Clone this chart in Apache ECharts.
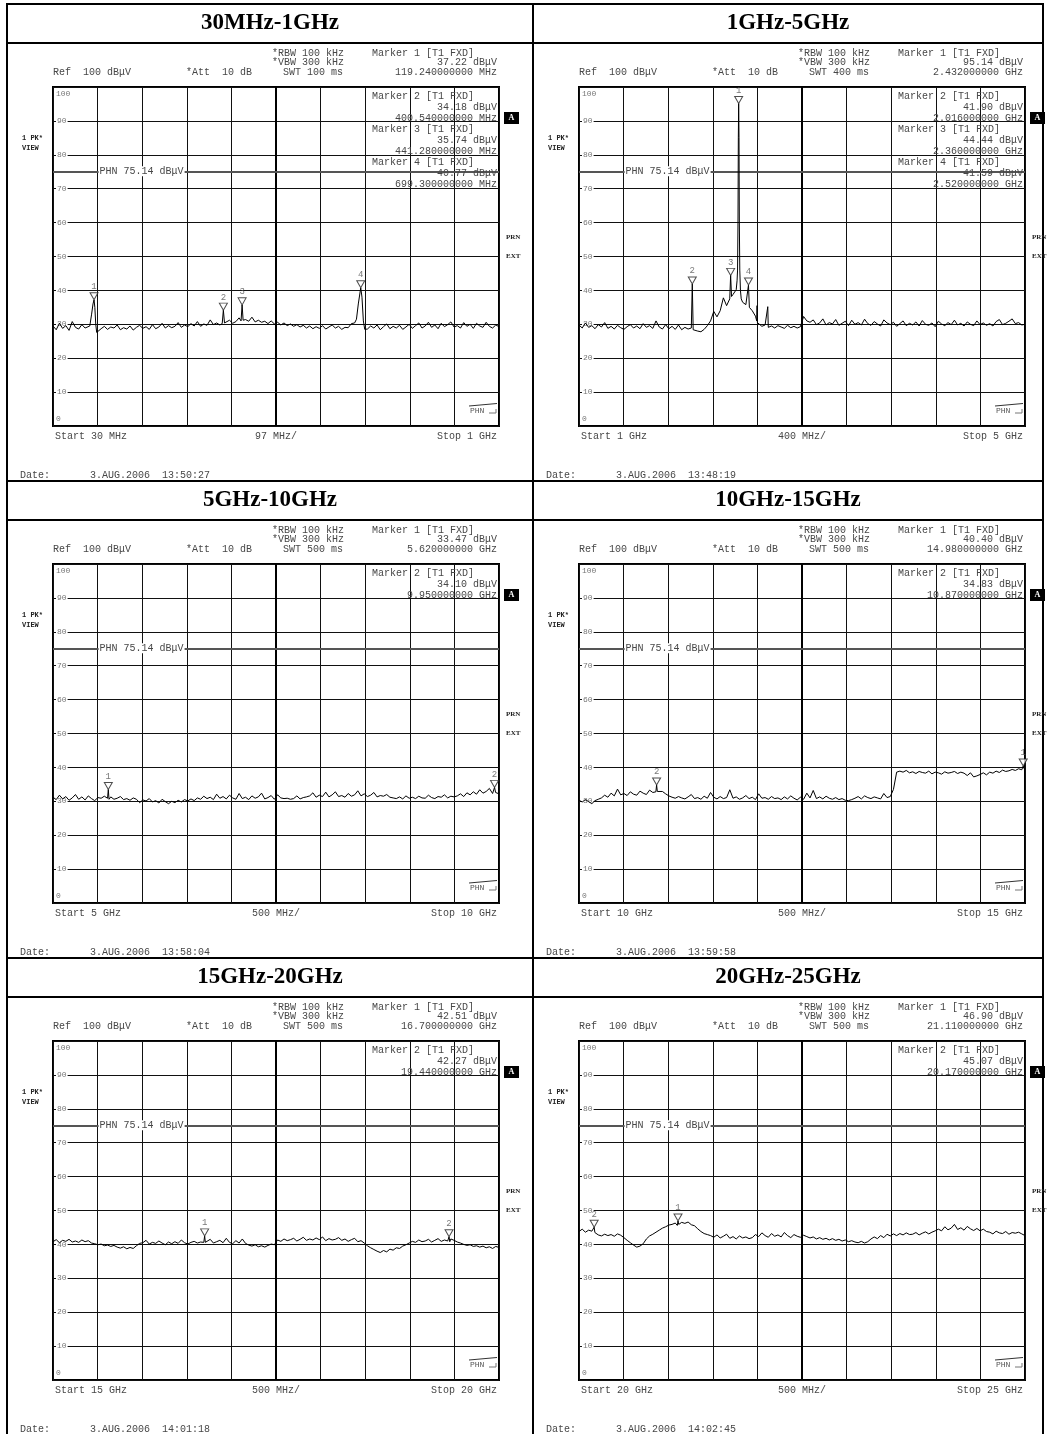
<!DOCTYPE html>
<html><head><meta charset="utf-8">
<script src="https://cdn.jsdelivr.net/npm/echarts@6/dist/echarts.min.js"></script>
<style>html,body{margin:0;padding:0;background:#fff}#c{width:1047px;height:1434px}</style>
</head><body><div id="c"></div><script>
// ---------------- DATA ----------------
const titles = ['30MHz-1GHz','1GHz-5GHz','5GHz-10GHz','10GHz-15GHz','15GHz-20GHz','20GHz-25GHz'];
const startMHz = [30, 1000, 5000, 10000, 15000, 20000];
const stopMHz  = [1000, 5000, 10000, 15000, 20000, 25000];
const startLabels = ['Start 30 MHz','Start 1 GHz','Start 5 GHz','Start 10 GHz','Start 15 GHz','Start 20 GHz'];
const spanLabels  = ['97 MHz/','400 MHz/','500 MHz/','500 MHz/','500 MHz/','500 MHz/'];
const stopLabels  = ['Stop 1 GHz','Stop 5 GHz','Stop 10 GHz','Stop 15 GHz','Stop 20 GHz','Stop 25 GHz'];
const swtLabels   = ['SWT 100 ms','SWT 400 ms','SWT 500 ms','SWT 500 ms','SWT 500 ms','SWT 500 ms'];
const dateLabels  = ['3.AUG.2006  13:50:27','3.AUG.2006  13:48:19','3.AUG.2006  13:58:04','3.AUG.2006  13:59:58','3.AUG.2006  14:01:18','3.AUG.2006  14:02:45'];
const phnLevel = 75.14;
const yMin = 0, yMax = 100, yStep = 10;

// marker frequencies (MHz) and levels (dBuV)
const markerFreq1 = [119.24, 400.54, 441.28, 699.3];
const markerLevel1 = [37.22, 34.18, 35.74, 40.77];
const markerFreq2 = [2432, 2016, 2360, 2520];
const markerLevel2 = [95.14, 41.90, 44.44, 41.59];
const markerFreq3 = [5620, 9950];
const markerLevel3 = [33.47, 34.10];
const markerFreq4 = [14980, 10870];
const markerLevel4 = [40.40, 34.83];
const markerFreq5 = [16700, 19440];
const markerLevel5 = [42.51, 42.27];
const markerFreq6 = [21110, 20170];
const markerLevel6 = [46.90, 45.07];

// sweep traces: evenly spaced samples from start to stop (null = covered by a narrow signal below)
const trace1 = [29.5,28.4,30.3,28.8,29.6,28.2,30.8,29.1,28.6,29.9,28.9,
 null,null,null,null,
 28.7,29.4,28.5,29.2,28.9,29.8,28.4,29.0,28.6,29.5,28.3,29.1,29.7,28.8,29.3,28.5,29.9,28.7,29.2,30.3,28.9,29.6,29.0,29.4,30.5,29.1,29.8,29.3,30.2,29.5,30.8,29.4,30.1,29.7,31.3,29.9,30.4,29.8,
 30.5,30.0,31.2,30.3,30.8,31.9,30.5,31.4,30.9,32.1,30.7,31.2,30.6,
 30.9,30.2,31.0,30.1,30.6,29.8,30.4,29.6,30.1,29.4,29.9,29.2,29.7,28.9,29.5,28.7,29.3,28.8,29.6,28.6,29.2,29.8,28.9,29.4,28.5,29.1,29.0,
 30.2,30.4,null,null,null,
 28.6,29.5,28.9,29.8,28.4,29.3,30.1,28.7,29.4,28.9,29.7,28.5,29.2,30.0,28.8,29.6,30.4,28.9,29.5,30.6,29.1,29.8,28.7,30.3,29.3,29.9,30.7,29.2,29.6,28.9,30.5,29.4,30.0,28.8,30.3,29.5,29.1,30.6,29.4,28.9,29.8,29.3];
const trace2 = [29.8,28.9,30.4,29.1,29.6,28.7,29.9,29.2,30.5,28.8,29.4,28.6,29.7,29.0,28.5,29.3,29.9,28.9,29.5,28.7,30.2,29.1,29.6,28.8,31.0,29.2,28.6,29.9,28.7,29.4,28.5,29.8,28.4,29.1,28.6,28.9,
 28.3,28.0,27.8,28.5,29.6,31.0,33.8,32.2,34.0,37.8,35.5,null,38.8,null,null,36.5,35.8,null,34.0,32.4,30.0,29.4,29.8,29.1,29.5,28.9,29.6,29.2,28.8,29.7,29.0,29.4,28.9,29.3,
 32.3,31.0,30.6,31.3,29.9,30.4,31.6,29.8,30.5,30.1,31.4,29.7,30.3,30.9,29.6,31.2,30.0,30.5,29.8,31.5,30.2,29.7,30.8,30.1,29.5,31.3,30.4,29.9,30.6,29.4,30.2,31.0,29.6,30.3,29.8,30.7,29.5,31.1,30.0,29.7,30.4,29.3,30.9,30.1,29.6,30.5,29.9,31.2,29.8,30.3,29.5,30.7,30.0,29.6,31.0,29.9,30.4,29.7,30.2,29.5,30.8,31.4,29.9,30.3,30.9,31.6,30.2,30.5,29.8,30.0];
const trace3 = [31.2,30.5,31.8,30.7,31.4,30.3,31.0,32.0,30.6,31.3,30.4,31.6,30.8,30.2,31.1,30.9,31.5,
 30.9,31.3,30.6,30.9,31.4,30.5,30.8,30.3,31.0,30.6,29.6,
 30.4,30.1,30.8,29.8,30.2,29.5,30.6,29.9,29.3,30.0,29.6,30.3,29.8,30.5,30.1,30.7,30.2,
 31.0,30.6,31.5,30.8,31.2,30.5,32.1,30.9,31.4,30.7,31.8,31.0,30.6,32.3,30.8,31.2,30.5,31.6,30.9,31.3,32.4,30.7,31.1,31.7,30.6,31.9,31.0,30.8,
 30.9,30.6,30.8,31.6,30.7,31.1,31.3,
 31.6,32.5,31.2,31.8,31.4,32.7,31.3,31.9,32.8,31.4,31.7,31.2,32.3,31.5,31.9,33.1,31.6,32.2,31.4,31.8,32.6,31.3,31.7,31.5,32.0,31.2,
 31.0,30.8,31.3,30.7,31.6,30.9,31.2,30.8,31.5,31.0,30.9,31.8,31.1,30.8,31.4,31.2,31.9,31.0,31.5,31.3,
 31.6,32.2,31.4,32.5,31.9,32.8,32.1,33.4,32.4,32.9,33.8,32.3,32.6,32.2];
const trace4 = [30.3,29.8,30.5,29.9,29.3,30.2,
 30.6,31.0,31.8,31.2,32.4,31.6,33.6,31.9,32.3,31.7,32.8,32.1,31.8,33.0,32.4,32.0,33.3,32.6,null,32.5,32.9,32.2,
 31.6,31.2,30.9,31.4,31.0,30.7,31.3,32.0,30.8,31.1,30.6,31.5,30.9,32.6,31.2,30.7,31.4,30.8,31.1,33.4,30.9,31.3,30.6,31.0,31.7,30.8,31.2,30.5,32.2,30.9,31.1,30.6,31.4,30.8,31.0,30.5,31.3,30.7,31.6,30.9,30.4,31.2,30.6,32.4,31.0,33.2,30.8,31.3,30.7,31.5,30.9,30.6,31.1,30.5,30.8,30.3,30.2,30.5,30.9,31.4,30.7,31.6,31.1,30.8,31.3,31.0,30.7,32.3,31.1,31.4,
 33.5,38.6,
 38.9,38.6,39.1,38.4,38.7,38.2,38.8,38.5,38.3,38.9,38.1,38.6,38.4,38.0,38.7,38.3,38.5,38.8,38.2,38.6,38.3,37.6,38.4,37.2,37.5,37.9,38.4,37.8,38.6,38.3,38.9,38.5,39.2,38.8,39.0,39.4,39.1,39.6,39.3,39.8];
const trace5 = [40.8,41.4,40.5,41.2,40.9,41.5,40.7,41.0,40.6,41.3,40.8,41.1,40.4,
 40.2,39.9,40.1,39.6,39.8,39.4,39.7,39.2,38.9,39.3,38.7,39.1,38.8,39.6,40.3,
 40.5,41.2,40.1,40.6,40.3,41.0,40.4,39.9,40.7,40.2,40.8,40.3,41.3,40.5,40.1,40.6,40.9,40.4,40.7,
 40.6,40.9,41.5,40.4,40.8,41.2,40.5,41.8,40.6,40.2,41.1,40.4,41.6,40.3,39.8,39.5,39.9,39.3,39.6,39.2,39.7,40.1,39.9,
 41.3,40.9,41.6,41.1,41.4,41.8,41.0,41.5,42.1,41.2,41.6,41.3,41.9,41.4,42.2,41.1,41.7,41.3,41.5,42.0,41.2,41.6,40.9,41.4,41.8,40.8,41.1,
 40.4,39.6,39.0,38.5,38.0,37.6,38.2,37.8,38.6,38.3,39.0,38.8,39.5,39.9,
 40.4,40.9,40.6,41.3,40.8,41.0,41.5,40.7,41.2,41.7,40.9,41.3,41.0,41.6,41.2,40.7,
 40.4,40.0,39.7,39.9,39.4,39.6,39.2,39.5,39.0,39.3,38.8,39.4,39.1];
const trace6 = [43.8,44.5,43.6,44.2,43.9,43.3,
 42.8,42.5,43.0,42.6,42.9,42.4,43.1,42.7,
 42.0,41.2,40.5,39.8,39.2,39.5,40.2,
 41.6,42.5,43.0,43.6,44.2,44.8,45.2,45.7,
 45.9,46.3,null,46.5,46.2,46.6,45.8,45.5,
 44.6,43.8,43.2,42.9,
 42.6,42.1,42.8,41.9,42.4,43.0,41.8,42.3,41.6,42.5,41.9,42.2,41.7,42.0,42.9,42.3,43.4,42.6,42.1,43.2,42.4,42.8,42.2,43.5,42.6,42.0,42.9,42.4,42.1,42.7,
 42.3,41.9,42.2,41.6,42.0,41.5,41.8,41.3,41.7,41.2,41.5,41.0,41.3,40.8,41.1,40.7,40.5,40.9,40.4,40.8,41.6,
 42.2,41.7,42.6,42.0,43.0,42.5,
 43.1,42.6,43.2,42.8,43.4,42.9,43.0,43.5,42.8,43.3,43.7,43.1,43.6,44.0,
 44.5,44.0,45.2,44.3,44.8,45.9,44.4,44.9,44.2,45.3,44.6,44.1,44.7,44.0,44.5,43.8,
 43.6,43.1,43.9,43.4,43.2,43.8,43.0,43.5,43.3,43.6,43.1,42.6];

// narrow signals: [MHz, dBuV] points
const spikes1 = [
 [[110,29.5],[114,33.0],[117,36.0],[119.24,37.22],[121,35.0],[123,30.0],[125,27.6]],
 [[398,30.2],[400.54,34.18],[403,30.4]],
 [[439,31.0],[441.28,35.74],[443.5,31.2]],
 [[686,30.5],[690,31.5],[694,36.0],[699.3,40.77],[702,38.0],[705,31.0],[708,28.5]]];
const spikes2 = [
 [[2008,28.6],[2016,41.90],[2024,28.4]],
 [[2352,37.5],[2360,44.44],[2368,38.2]],
 [[2410,40.2],[2418,43.0],[2422,46.0],[2426,60.0],[2429,85.0],[2432,95.14],[2435,85.0],[2438,60.0],[2442,46.0],[2448,40.0],[2455,37.5]],
 [[2512,35.5],[2520,41.59],[2528,35.0]],
 [[2594,31.0],[2597,35.5],[2600,30.5]],
 [[2686,29.5],[2693,35.2],[2697,29.8]]];
const spikes3 = [
 [[5612,30.8],[5620,33.47],[5628,30.6]],
 [[9940,32.0],[9950,34.10],[9962,32.6]]];
const spikes4 = [
 [[10862,32.8],[10870,34.83],[10878,32.9]],
 [[14970,39.3],[14980,40.40],[14990,39.6]]];
const spikes5 = [
 [[16692,40.5],[16700,42.51],[16708,40.6]],
 [[19432,41.0],[19440,42.27],[19448,40.8]]];
const spikes6 = [
 [[20162,43.8],[20170,45.07],[20178,43.5]],
 [[21102,45.6],[21110,46.90],[21118,45.9]]];

// ---------------- BUILD ----------------
const traces = [trace1,trace2,trace3,trace4,trace5,trace6];
const spikes = [spikes1,spikes2,spikes3,spikes4,spikes5,spikes6];
const mFreqs = [markerFreq1,markerFreq2,markerFreq3,markerFreq4,markerFreq5,markerFreq6];
const mLevels = [markerLevel1,markerLevel2,markerLevel3,markerLevel4,markerLevel5,markerLevel6];

function buildTrace(start, stop, vals, sp){
  const n = vals.length, step = (stop-start)/(n-1), pts = [];
  vals.forEach((v,i)=>{
    if (v == null) return;
    const f = start + i*step;
    if (sp.some(s => f >= s[0][0] && f <= s[s.length-1][0])) return;
    pts.push([f, v]);
  });
  sp.forEach(s => s.forEach(p => pts.push(p)));
  pts.sort((a,b)=>a[0]-b[0]);
  return pts;
}
function freqText(k, f){
  return k === 0 ? f.toFixed(9) + ' MHz' : (f/1000).toFixed(9) + ' GHz';
}

const MONO = '"Liberation Mono","DejaVu Sans Mono",monospace';
const TXT = '#474747';
const chart = echarts.init(document.getElementById('c'), null, {renderer:'canvas', width:1047, height:1434});
const grids = [], xAxes = [], yAxes = [], series = [];
const PX = 53, PY = 87, PW = 446, PH = 339, COLX = 526, ROWY = 477;

for (let k = 0; k < 6; k++){
  const c = k % 2, r = Math.floor(k/2), ox = COLX*c, oy = ROWY*r;
  const s0 = startMHz[k], s1 = stopMHz[k];
  grids.push({left: PX+ox, top: PY+oy, width: PW, height: PH, show: true, borderColor: '#000', borderWidth: 2, backgroundColor: '#fff'});
  xAxes.push({gridIndex: k, type: 'value', min: s0, max: s1, interval: (s1-s0)/10,
    axisLine: {show:false}, axisTick: {show:false}, axisLabel: {show:false},
    splitLine: {show:true, lineStyle: {color:'#111', width:1}}});
  yAxes.push({gridIndex: k, type: 'value', min: yMin, max: yMax, interval: yStep,
    axisLine: {show:false}, axisTick: {show:false},
    axisLabel: {show:true, inside:true, margin:3, fontSize:8, color:'#777', fontFamily: MONO,
      formatter: v => v === yMax ? '{t|' + v + '}' : (v === yMin ? '{b|' + v + '}' : '{m|' + v + '}'),
      rich: {
        t: {fontSize:8, color:'#777', fontFamily: MONO, padding:[14,0,0,0]},
        b: {fontSize:8, color:'#777', fontFamily: MONO, padding:[0,0,14,0]},
        m: {fontSize:8, color:'#777', fontFamily: MONO, backgroundColor:'#fff', padding:[0,1]}
      }},
    splitLine: {show:true, lineStyle: {color:'#111', width:1}}});
  series.push({type:'line', xAxisIndex:k, yAxisIndex:k, data: buildTrace(s0, s1, traces[k], spikes[k]),
    showSymbol:false, symbol:'none', animation:false, silent:true,
    lineStyle:{color:'#000', width:1}, z:5,
    markLine:{silent:true, symbol:['none','none'], animation:false, label:{show:false},
      data:[
        {xAxis:(s0+s1)/2, lineStyle:{color:'#000', width:2, type:'solid'}},
        {yAxis:phnLevel, lineStyle:{color:'#555', width:2, type:'solid'}}
      ]}});
  series.push({type:'scatter', xAxisIndex:k, yAxisIndex:k, animation:false, silent:true, z:6,
    data: mFreqs[k].map((f,i)=>[f, mLevels[k][i], i+1]),
    symbol:'path://M0,0L8,0L4,7Z', symbolSize:[8,7], symbolOffset:[0,-3.5],
    itemStyle:{color:'#fff', borderColor:'#222', borderWidth:1},
    label:{show:true, position:'top', distance:1, formatter: p => String(p.data[2]), fontSize:9, color:'#555', fontFamily: MONO}});
}

chart.setOption({animation:false, backgroundColor:'#fff', grid: grids, xAxis: xAxes, yAxis: yAxes, series: series});

// ---------------- ANNOTATIONS ----------------
const G = [];
function T(x, y, text, align, font, fill, extra){
  G.push({type:'text', silent:true, z:100, style:Object.assign({x:x, y:y, text:text, fill: fill || TXT,
    font: font || ('10px ' + MONO), textAlign: align || 'left', align: align || 'left',
    textVerticalAlign:'middle', verticalAlign:'middle'}, extra || {})});
}
function L(x1,y1,x2,y2,w,col){
  G.push({type:'line', silent:true, z:90, shape:{x1:x1,y1:y1,x2:x2,y2:y2}, style:{stroke: col || '#000', lineWidth: w || 2}});
}
// table
L(6,4,1044,4,2); L(7,3,7,1434,2); L(1043,3,1043,1434,2); L(533,3,533,1434,2);
[43,481,520,958,997].forEach(y => L(6,y,1044,y,2));
const titleCX = [270, 788];
const headerCY = [23.5, 500.5, 977.5];

for (let k = 0; k < 6; k++){
  const c = k % 2, r = Math.floor(k/2), ox = COLX*c, oy = ROWY*r;
  T(titleCX[c], headerCY[r], titles[k], 'center', 'bold 23px "Liberation Serif","Times New Roman",serif', '#000');
  T(272+ox, 53+oy, '*RBW 100 kHz');
  T(272+ox, 62.5+oy, '*VBW 300 kHz');
  T(53+ox, 72.5+oy, 'Ref  100 dB\u03bcV');
  T(186+ox, 72.5+oy, '*Att  10 dB');
  T(283+ox, 72.5+oy, swtLabels[k]);
  // marker 1 in header
  T(372+ox, 53+oy, 'Marker 1 [T1 FXD]');
  T(497+ox, 62.5+oy, mLevels[k][0].toFixed(2) + ' dB\u03bcV', 'right');
  T(497+ox, 72.5+oy, freqText(k, mFreqs[k][0]), 'right');
  for (let i = 1; i < mFreqs[k].length; i++){
    const yb = 96 + 33*(i-1) + oy;
    T(372+ox, yb, 'Marker ' + (i+1) + ' [T1 FXD]');
    T(497+ox, yb+11, mLevels[k][i].toFixed(2) + ' dB\u03bcV', 'right');
    T(497+ox, yb+22, freqText(k, mFreqs[k][i]), 'right');
  }
  T(22+ox, 138+oy, '1 PK*', 'left', 'bold 7px ' + MONO, '#222');
  T(22+ox, 148+oy, 'VIEW', 'left', 'bold 7px ' + MONO, '#222');
  G.push({type:'rect', silent:true, z:95, shape:{x:504+ox, y:112+oy, width:15, height:12}, style:{fill:'#000'}});
  T(511.5+ox, 118+oy, 'A', 'center', 'bold 8px "Liberation Serif",serif', '#fff');
  T(506+ox, 237+oy, 'PRN', 'left', 'bold 7px "Liberation Serif",serif', '#222');
  T(506+ox, 256+oy, 'EXT', 'left', 'bold 7px "Liberation Serif",serif', '#222');
  // PHN small mark bottom right
  L(469+ox, 406+oy, 497+ox, 403.5+oy, 1, '#333');
  T(470+ox, 411+oy, 'PHN', 'left', '8px ' + MONO, '#555');
  L(489+ox, 413+oy, 496+ox, 413+oy, 1, '#777');
  L(496+ox, 409+oy, 496+ox, 413+oy, 1, '#777');
  // bottom captions
  T(55+ox, 436+oy, startLabels[k]);
  T(276+ox, 436+oy, spanLabels[k], 'center');
  T(497+ox, 436+oy, stopLabels[k], 'right');
  T(20+ox, 475+oy, 'Date:');
  T(90+ox, 475+oy, dateLabels[k]);
  // PHN display line label via axis scale
  const s0 = startMHz[k], s1 = stopMHz[k];
  const p = chart.convertToPixel({gridIndex:k}, [s0 + (s1-s0)/10, phnLevel]);
  T(p[0]+1, p[1], 'PHN 75.14 dB\u03bcV', 'left', '10px ' + MONO, TXT, {backgroundColor:'#fff', padding:[0,1]});
}
chart.setOption({graphic: G});
</script></body></html>
